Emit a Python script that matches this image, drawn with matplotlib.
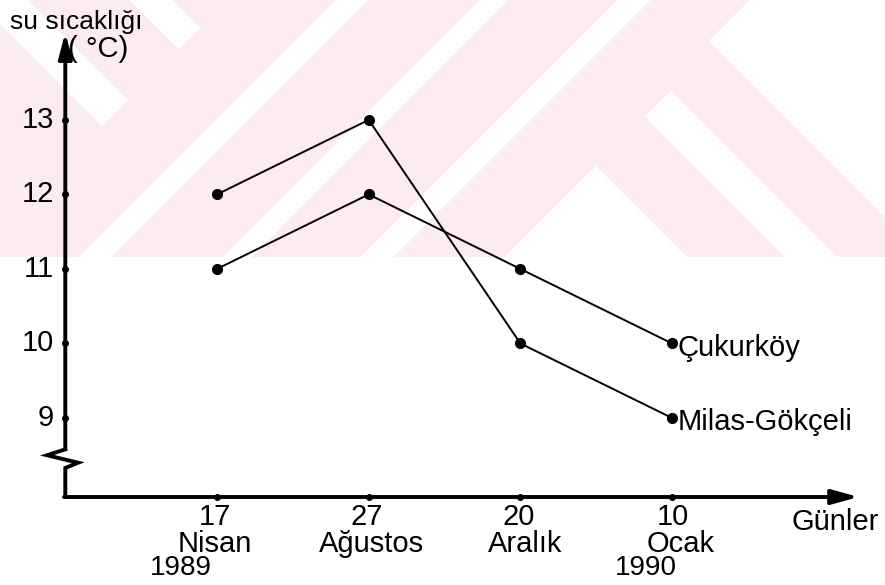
import numpy as np
import matplotlib
matplotlib.use('Agg')
import matplotlib.pyplot as plt

# data
days = ['17', '27', '20', '10']
months = ['Nisan', 'Ağustos', 'Aralık', 'Ocak']
years = ['1989', '', '', '1990']
cukurkoy = [11, 12, 11, 10]
milas = [12, 13, 10, 9]
yticks = [9, 10, 11, 12, 13]

plt.rcParams['font.family'] = ['Liberation Sans', 'DejaVu Sans']

W, H = 885, 585
fig = plt.figure(figsize=(W / 100, H / 100), dpi=100)

# faint pink watermark from the scan (top band of the page)
bg = fig.add_axes([0, 0, 1, 1], zorder=0)
yy, xx = np.mgrid[0:H, 0:W] + 0.5
s = xx + yy
d = yy - xx
left_arm = (s < 229) & ~(((d >= -172) & (d <= -130)) | ((d >= -27) & (d <= 24)))
mid = (s >= 229) & (s < 762) & ~((s >= 750) & (d < -667))
for lo, hi in [(336, 368), (480, 508), (618, 650)]:
    mid &= ~((s >= lo) & (s <= hi))
mid &= ~((s >= 762) & (d > -433))
right_arm = (s >= 762) & (d >= -667) & (d <= -430) & ~((d >= -580) & (d <= -529))
mask = (yy < 257) & (left_arm | mid | right_arm)
img = np.ones((H, W, 3))
img[mask] = np.array([252, 235, 239]) / 255
bg.imshow(img, extent=(0, W, H, 0), aspect='auto', interpolation='nearest')
bg.axis('off')

ax = fig.add_axes([65.3 / W, 88 / H, 804 / W, 477 / H], zorder=1)
ax.patch.set_alpha(0)
ymin, xend, ytop = 7.94, 5.23, 14.17
ax.set_xlim(0, 5.3)
ax.set_ylim(ymin, 14.34)
ax.axis('off')

x = np.arange(1, len(days) + 1)
ax.plot(x, milas, color='black', lw=1.4, marker='o', ms=7, clip_on=False)
ax.plot(x, cukurkoy, color='black', lw=1.4, marker='o', ms=7, clip_on=False)

lab_style = dict(textcoords='offset points', ha='left', va='center_baseline', fontsize=21)
ax.annotate('Çukurköy', (x[-1], cukurkoy[-1]), xytext=(4, -1), **lab_style)
ax.annotate('Milas-Gökçeli', (x[-1], milas[-1]), xytext=(4, -1), **lab_style)

# axes drawn by hand: arrows and the axis break
axis_lw = 2.8
ax.annotate('', xy=(0, ytop), xytext=(0, 8.58),
            arrowprops=dict(arrowstyle='-|>,head_length=0.75,head_width=0.2', lw=axis_lw,
                            color='black', mutation_scale=20, shrinkA=0, shrinkB=0))
ax.plot([0, -0.12, 0.085, 0, 0], [8.58, 8.50, 8.40, 8.33, ymin], color='black',
        lw=axis_lw, solid_joinstyle='miter', clip_on=False)
ax.annotate('', xy=(xend, ymin), xytext=(-0.008, ymin),
            arrowprops=dict(arrowstyle='-|>,head_length=0.8,head_width=0.22', lw=axis_lw,
                            color='black', mutation_scale=20, shrinkA=0, shrinkB=0))

# tick dots and labels
ax.plot(np.zeros(len(yticks)), yticks, 'o', color='black', ms=4, clip_on=False)
ax.plot(x, np.full(len(x), ymin), 'o', color='black', ms=4, clip_on=False)
for v in yticks:
    ax.annotate(str(v), (0, v), xytext=(-8, 0), textcoords='offset points',
                ha='right', va='center', fontsize=21)

day_dx = [-1.5, -1.5, -1, 0.5]
month_dx = [-1.5, 2, 3.5, 6]
year_dx = [-26, 0, 0, -19]
for i in range(len(days)):
    ax.annotate(days[i], (x[i], ymin), xytext=(day_dx[i], -14.5), textcoords='offset points',
                ha='center', va='center', fontsize=21)
    ax.annotate(months[i], (x[i], ymin), xytext=(month_dx[i], -32), textcoords='offset points',
                ha='center', va='center_baseline', fontsize=21)
    if years[i]:
        ax.annotate(years[i], (x[i], ymin), xytext=(year_dx[i], -51), textcoords='offset points',
                    ha='center', va='center', fontsize=20)

ax.annotate('Günler', (xend, ymin), xytext=(-17, -18), textcoords='offset points',
            ha='center', va='center', fontsize=21)
ax.annotate('su sıcaklığı', (0, ytop), xytext=(-40, 8), textcoords='offset points',
            ha='left', va='center', fontsize=19)
ax.annotate('( °C)', (0, ytop), xytext=(2, -12), textcoords='offset points',
            ha='left', va='center', fontsize=21)

fig.savefig('out.png', dpi=100)
